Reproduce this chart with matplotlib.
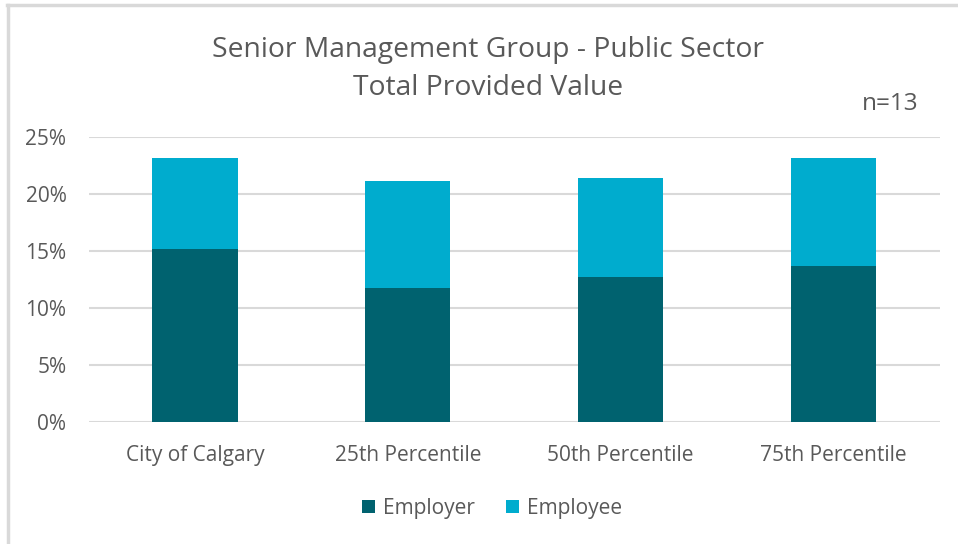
import matplotlib
matplotlib.use("Agg")
import matplotlib.pyplot as plt
from matplotlib.lines import Line2D
from matplotlib.patches import Patch
import numpy as np

categories = ["City of Calgary", "25th Percentile", "50th Percentile", "75th Percentile"]
employer = [15.15, 11.76, 12.75, 13.66]
employee = [8.02, 9.40, 8.64, 9.51]
y_ticks = [0, 5, 10, 15, 20, 25]
y_tick_labels = ["0%", "5%", "10%", "15%", "20%", "25%"]

dark = "#00626f"
light = "#00acce"
text_col = "#595959"
grid_col = "#d9d9d9"

plt.rcParams["font.family"] = ["Open Sans", "DejaVu Sans"]

fig = plt.figure(figsize=(9.58, 5.44), dpi=100)
fig.patch.set_facecolor("white")
ax = fig.add_axes([0.0925, 0.2237, 0.8887, 0.525])

x = np.arange(len(categories))
ax.bar(x, employer, width=0.4, color=dark, label="Employer", zorder=3)
ax.bar(x, employee, width=0.4, bottom=employer, color=light, label="Employee", zorder=3)

ax.set_xlim(-0.5, len(categories) - 0.5)
ax.set_ylim(0, 25)
ax.set_yticks(y_ticks)
ax.set_yticklabels(y_tick_labels)
ax.set_xticks(x)
ax.set_xticklabels(categories)
ax.tick_params(axis="y", length=0, pad=16, labelsize=15, labelcolor=text_col)
ax.tick_params(axis="x", length=0, pad=16.5, labelsize=15, labelcolor=text_col)
ax.yaxis.grid(True, color=grid_col, linewidth=1.5, zorder=0)
for s in ax.spines.values():
    s.set_visible(False)

fig.text(0.509, 0.909, "Senior Management Group - Public Sector", ha="center", va="center",
         fontsize=20.3, color=text_col)
fig.text(0.509, 0.839, "Total Provided Value", ha="center", va="center",
         fontsize=20.3, color=text_col)
fig.text(0.959, 0.808, "n=13", ha="right", va="center", fontsize=17.5, color=text_col)

handles = [Patch(facecolor=dark, label="Employer"), Patch(facecolor=light, label="Employee")]
fig.legend(handles=handles, loc="center", bbox_to_anchor=(0.514, 0.066), ncol=2,
           frameon=False, fontsize=15, labelcolor=text_col, handlelength=0.6,
           handleheight=0.6, columnspacing=1.5, handletextpad=0.4)

# light frame along the top and left edges
fig.add_artist(Line2D([7 / 958, 1], [1 - 5 / 544, 1 - 5 / 544], color="#d9d9d9",
                      linewidth=2.5, transform=fig.transFigure))
fig.add_artist(Line2D([8 / 958, 8 / 958], [0, 1 - 5 / 544], color="#d9d9d9",
                      linewidth=2.5, transform=fig.transFigure))

fig.savefig("out.png", dpi=100)
